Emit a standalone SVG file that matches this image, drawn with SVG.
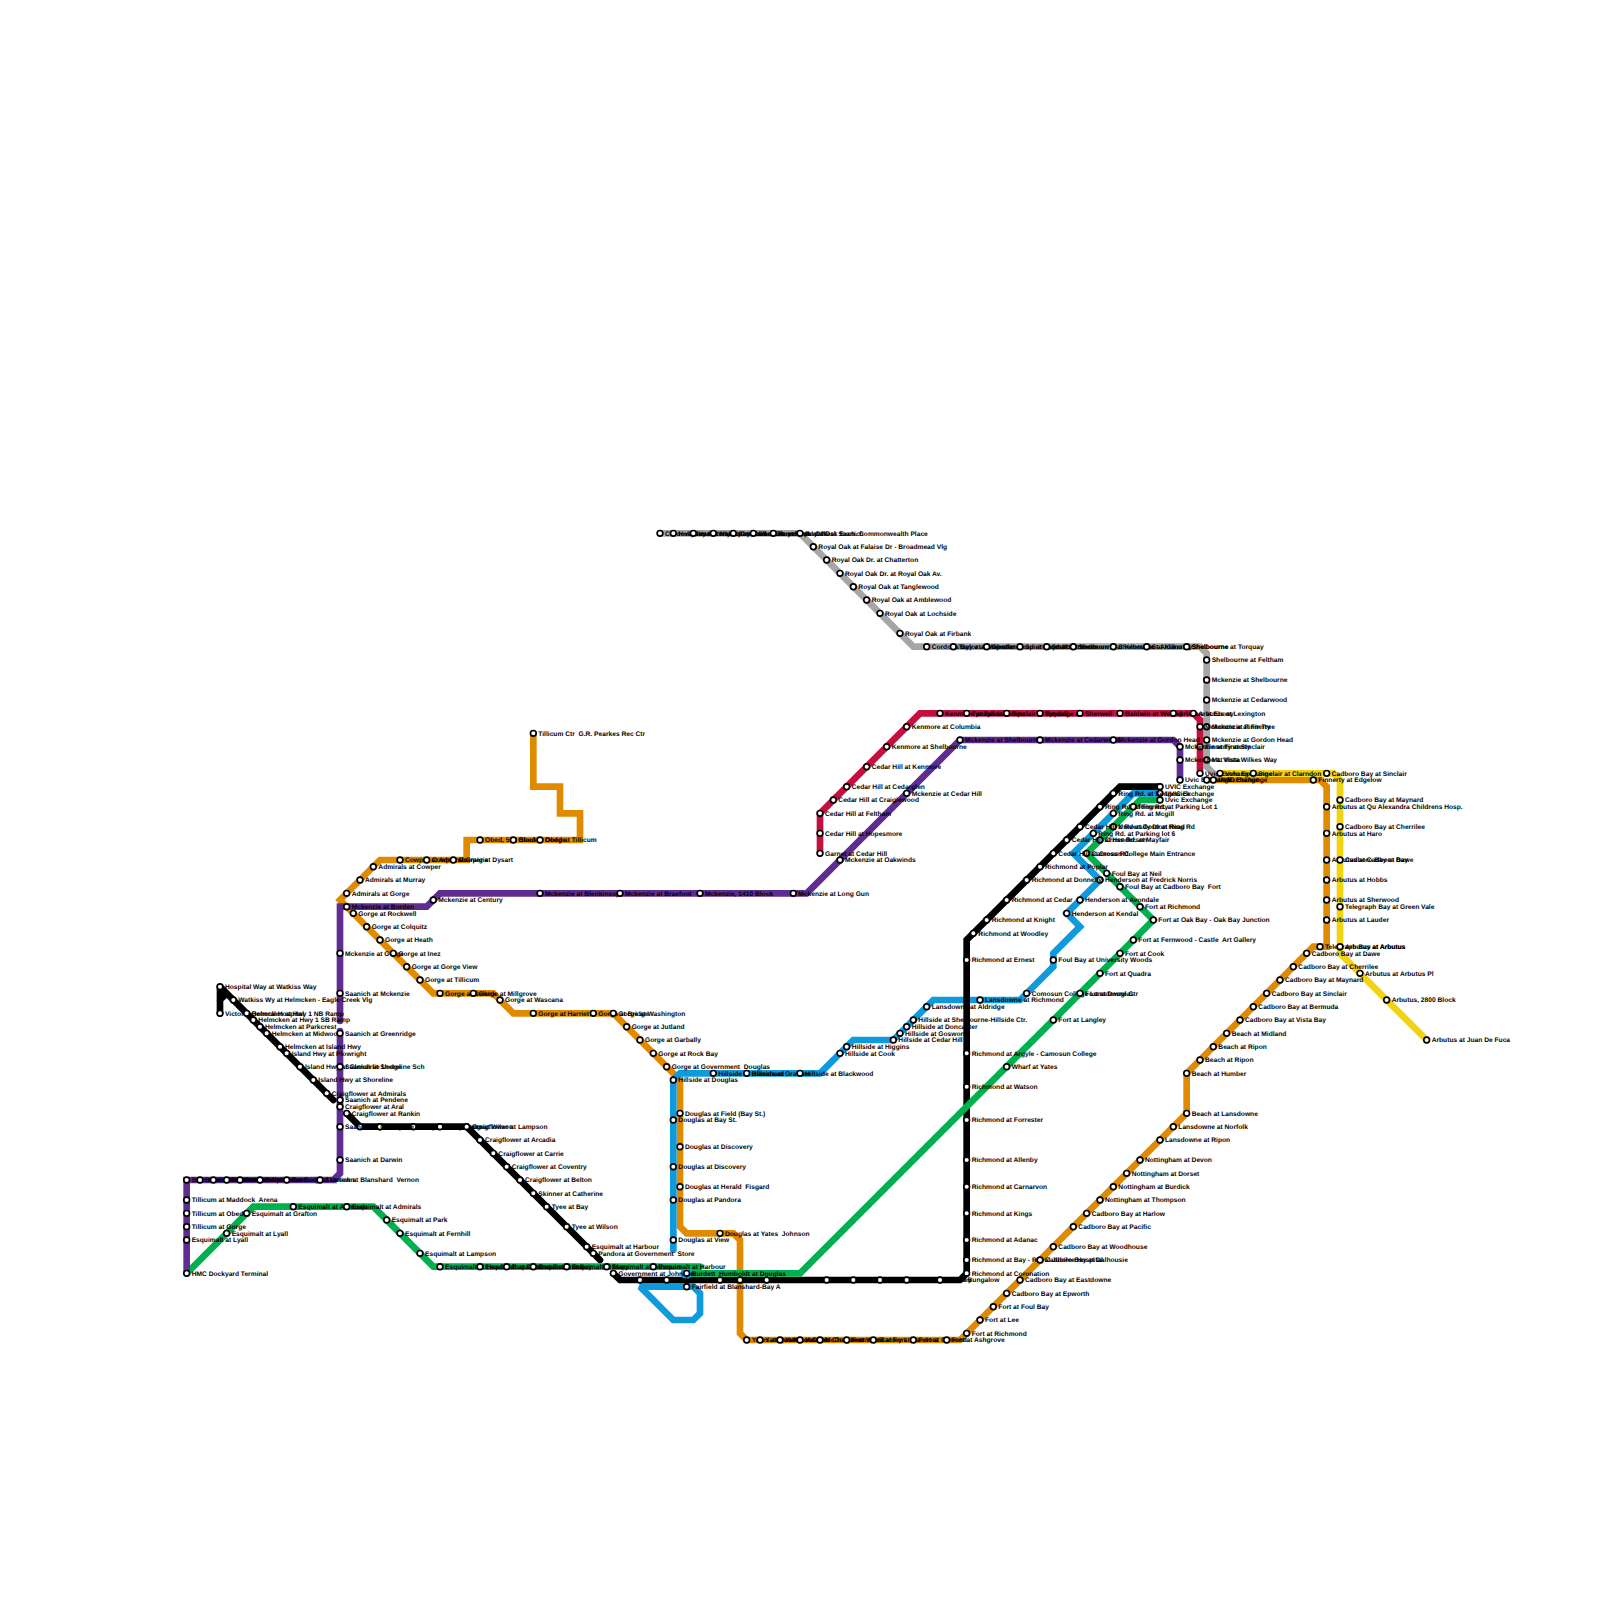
<svg xmlns="http://www.w3.org/2000/svg" width="1600" height="1600" viewBox="0 0 1600 1600">
<style>
.l{fill:none;stroke-width:6.67;stroke-linecap:round;stroke-linejoin:miter;stroke-miterlimit:2}
.or{stroke:#e08a00}.bl{stroke:#0e9adc}.gy{stroke:#a6a6a6}.cr{stroke:#c4103f}.ye{stroke:#f2d312}.bk{stroke:#000}.gr{stroke:#00b04f}.pu{stroke:#5f2c91}
#nodes{opacity:.999}
#nodes circle{fill:#fff;stroke:#000;stroke-width:1.67}
#nodes text{font-family:"Liberation Sans",Arial,sans-serif;font-weight:bold;font-size:6.67px;fill:#000;white-space:pre;text-rendering:geometricPrecision}
</style>
<rect width="1600" height="1600" fill="#fff"/>
<g id="connectors">
<path class="l or" d="M533.33,733.33V786.67H560V813.33H580V840H466.67V860H380L340,900L433.33,993.33H493.33L513.33,1013.33H613.33L673.33,1073.33L680,1080V1226.67L686.67,1233.33H733.33L740,1240V1333.33L746.67,1340H960L1186.67,1113.33V1073.33L1313.33,946.67H1326.67V786.67L1320,780H1206.67"/>
<path class="l bl" d="M1160,793.33H1133.33L1073.33,853.33L1100,880L1066.67,913.33L1080,926.67L1053.33,953.33V966.67L1020,1000H933.33L893.33,1040H853.33L820,1073.33H680L673.33,1080V1250"/>
<path class="l bl" d="M686.67,1273.33V1286.67"/>
<path class="l bl" d="M640,1286.67H693.33L700,1293.33V1313.33L693.33,1320H673.33Z"/>
<path class="l gy" d="M660,533.33H800L913.33,646.67H1200L1206.67,653.33V766.67L1216,776"/>
<path class="l cr" d="M820,853.33V813.33L920,713.33H1193.33L1200,720V773.33"/>
<path class="l ye" d="M1220,773.33H1333.33L1340,780V953.33L1426.67,1040"/>
<path class="l bk" d="M220,1013.33V986.67L333.33,1100M220,1000L226.67,993.33"/>
<path class="l bk" d="M346.67,1113.33L360,1126.67H466.67L600,1260"/>
<path class="l bk" d="M613.33,1273.33L620,1280H960L966.67,1273.33V940L1120,786.67H1160"/>
<path class="l gr" d="M186.67,1273.33L253.33,1206.67H373.33L433.33,1266.67H700"/>
<path class="l gr" d="M690,1273.33H800L1153.33,920L1086.67,853.33L1140,800H1160"/>
<path class="l pu" d="M186.67,1273.33V1180H333.33L340,1173.33V1031"/>
<path class="l pu" d="M340,1021V906.67H426.67L440,893.33H806.67L960,740H1173.33L1180,746.67V780"/>
<circle cx="686.67" cy="1273.33" r="6" fill="#0e9adc"/>
</g>
<g id="nodes">
<g id="n1"><circle cx="660" cy="533.33" r="2.87"/><text x="665" y="535.6">Cordova Bay Rd</text></g>
<g id="n2"><circle cx="673.33" cy="533.33" r="2.87"/><text x="678.33" y="535.6">Hollydene at Haliburton</text></g>
<g id="n3"><circle cx="693.33" cy="533.33" r="2.87"/><text x="698.33" y="535.6">Hamsterly at Cordova</text></g>
<g id="n4"><circle cx="713.33" cy="533.33" r="2.87"/><text x="718.33" y="535.6">Wesley at Claremont</text></g>
<g id="n5"><circle cx="733.33" cy="533.33" r="2.87"/><text x="738.33" y="535.6">Sayward at Claremont</text></g>
<g id="n6"><circle cx="753.33" cy="533.33" r="2.87"/><text x="758.33" y="535.6">Elk Lake at Royal Oak</text></g>
<g id="n7"><circle cx="773.33" cy="533.33" r="2.87"/><text x="778.33" y="535.6">Royal Oak at West Saanich</text></g>
<g id="n8"><circle cx="800" cy="533.33" r="2.87"/><text x="805" y="535.6">Royal Oak Exch. Commonwealth Place</text></g>
<g id="n9"><circle cx="813.33" cy="546.67" r="2.87"/><text x="818.33" y="548.9">Royal Oak at Falaise Dr - Broadmead Vlg</text></g>
<g id="n10"><circle cx="826.67" cy="560" r="2.87"/><text x="831.67" y="562.3">Royal Oak Dr. at Chatterton</text></g>
<g id="n11"><circle cx="840" cy="573.33" r="2.87"/><text x="845" y="575.6">Royal Oak Dr. at Royal Oak Av.</text></g>
<g id="n12"><circle cx="853.33" cy="586.67" r="2.87"/><text x="858.33" y="588.9">Royal Oak at Tanglewood</text></g>
<g id="n13"><circle cx="866.67" cy="600" r="2.87"/><text x="871.67" y="602.3">Royal Oak at Amblewood</text></g>
<g id="n14"><circle cx="880" cy="613.33" r="2.87"/><text x="885" y="615.6">Royal Oak at Lochside</text></g>
<g id="n15"><circle cx="900" cy="633.33" r="2.87"/><text x="905" y="635.6">Royal Oak at Firbank</text></g>
<g id="n16"><circle cx="926.67" cy="646.67" r="2.87"/><text x="931.67" y="648.9">Cordova Bay at Cumberland</text></g>
<g id="n17"><circle cx="953.33" cy="646.67" r="2.87"/><text x="958.33" y="648.9">Taylor at Majestic</text></g>
<g id="n18"><circle cx="986.67" cy="646.67" r="2.87"/><text x="991.67" y="648.9">Gordon Head at Majestic</text></g>
<g id="n19"><circle cx="1020" cy="646.67" r="2.87"/><text x="1025" y="648.9">Spiritwood at Kenmore</text></g>
<g id="n20"><circle cx="1046.67" cy="646.67" r="2.87"/><text x="1051.67" y="648.9">Smith at Kenmore</text></g>
<g id="n21"><circle cx="1073.33" cy="646.67" r="2.87"/><text x="1078.33" y="648.9">Shelbourne at Kenmore</text></g>
<g id="n22"><circle cx="1113.33" cy="646.67" r="2.87"/><text x="1118.33" y="648.9">Shelbourne at Kilkenny</text></g>
<g id="n23"><circle cx="1146.67" cy="646.67" r="2.87"/><text x="1151.67" y="648.9">St Aidans at Shelbourne</text></g>
<g id="n24"><circle cx="1186.67" cy="646.67" r="2.87"/><text x="1191.67" y="648.9">Shelbourne at Torquay</text></g>
<g id="n25"><circle cx="1206.67" cy="660" r="2.87"/><text x="1211.67" y="662.3">Shelbourne at Feltham</text></g>
<g id="n26"><circle cx="1206.67" cy="680" r="2.87"/><text x="1211.67" y="682.3">Mckenzie at Shelbourne</text></g>
<g id="n27"><circle cx="1206.67" cy="700" r="2.87"/><text x="1211.67" y="702.3">Mckenzie at Cedarwood</text></g>
<g id="n28"><circle cx="1206.67" cy="726.67" r="2.87"/><text x="1211.67" y="728.9">Mckenzie at Fir Tree</text></g>
<g id="n29"><circle cx="1206.67" cy="740" r="2.87"/><text x="1211.67" y="742.3">Mckenzie at Gordon Head</text></g>
<g id="n30"><circle cx="1206.67" cy="760" r="2.87"/><text x="1211.67" y="762.3">Mt. Vista Wilkes Way</text></g>
<g id="n31"><circle cx="940" cy="713.33" r="2.87"/><text x="945" y="715.6">Kenmore at Tyndall</text></g>
<g id="n32"><circle cx="966.67" cy="713.33" r="2.87"/><text x="971.67" y="715.6">Tyndall at Jolkpa</text></g>
<g id="n33"><circle cx="1006.67" cy="713.33" r="2.87"/><text x="1011.67" y="715.6">Sinclair at Tyndall</text></g>
<g id="n34"><circle cx="1040" cy="713.33" r="2.87"/><text x="1045" y="715.6">Bayridge at</text></g>
<g id="n35"><circle cx="1080" cy="713.33" r="2.87"/><text x="1085" y="715.6">Sherwell</text></g>
<g id="n36"><circle cx="1120" cy="713.33" r="2.87"/><text x="1125" y="715.6">Baldwin at Wesley</text></g>
<g id="n37"><circle cx="1173.33" cy="713.33" r="2.87"/><text x="1178.33" y="715.6">Arbutus at Ebony</text></g>
<g id="n38"><circle cx="1193.33" cy="713.33" r="2.87"/><text x="1198.33" y="715.6">Arbutus at Lexington</text></g>
<g id="n39"><circle cx="1200" cy="726.67" r="2.87"/><text x="1205" y="728.9">Mckenzie at Finnerty</text></g>
<g id="n40"><circle cx="1200" cy="746.67" r="2.87"/><text x="1205" y="748.9">Finnerty at Sinclair</text></g>
<g id="n41"><circle cx="1200" cy="773.33" r="2.87"/><text x="1205" y="775.6">Uvic Exchange</text></g>
<g id="n42"><circle cx="820" cy="853.33" r="2.87"/><text x="825" y="855.6">Garnet at Cedar Hill</text></g>
<g id="n43"><circle cx="820" cy="833.33" r="2.87"/><text x="825" y="835.6">Cedar Hill at Hopesmore</text></g>
<g id="n44"><circle cx="820" cy="813.33" r="2.87"/><text x="825" y="815.6">Cedar Hill at Feltham</text></g>
<g id="n45"><circle cx="833.33" cy="800" r="2.87"/><text x="838.33" y="802.3">Cedar Hill at Craigiewood</text></g>
<g id="n46"><circle cx="846.67" cy="786.67" r="2.87"/><text x="851.67" y="788.9">Cedar Hill at Cedarglen</text></g>
<g id="n47"><circle cx="866.67" cy="766.67" r="2.87"/><text x="871.67" y="768.9">Cedar Hill at Kenmore</text></g>
<g id="n48"><circle cx="886.67" cy="746.67" r="2.87"/><text x="891.67" y="748.9">Kenmore at Shelbourne</text></g>
<g id="n49"><circle cx="906.67" cy="726.67" r="2.87"/><text x="911.67" y="728.9">Kenmore at Columbia</text></g>
<g id="n50"><circle cx="960" cy="740" r="2.87"/><text x="965" y="742.3">Mckenzie at Shelbourne</text></g>
<g id="n51"><circle cx="1040" cy="740" r="2.87"/><text x="1045" y="742.3">Mckenzie at Cedarwood</text></g>
<g id="n52"><circle cx="1113.33" cy="740" r="2.87"/><text x="1118.33" y="742.3">Mckenzie at Gordon Head</text></g>
<g id="n53"><circle cx="1180" cy="746.67" r="2.87"/><text x="1185" y="748.9">Mckenzie at Finnerty</text></g>
<g id="n54"><circle cx="1180" cy="760" r="2.87"/><text x="1185" y="762.3">Mckenzie at Vista</text></g>
<g id="n55"><circle cx="1180" cy="780" r="2.87"/><text x="1185" y="782.3">Uvic Exchange</text></g>
<g id="n56"><circle cx="1206.67" cy="780" r="2.87"/><text x="1211.67" y="782.3">Uvic Exchange</text></g>
<g id="n57"><circle cx="1213.33" cy="780" r="2.87"/><text x="1218.33" y="782.3">UVIC Exchange</text></g>
<g id="n58"><circle cx="1220" cy="773.33" r="2.87"/><text x="1225" y="775.6">Uvic Exchange</text></g>
<g id="n59"><circle cx="1253.33" cy="773.33" r="2.87"/><text x="1258.33" y="775.6">Sinclair at Clarndon</text></g>
<g id="n60"><circle cx="1326.67" cy="773.33" r="2.87"/><text x="1331.67" y="775.6">Cadboro Bay at Sinclair</text></g>
<g id="n61"><circle cx="1313.33" cy="780" r="2.87"/><text x="1318.33" y="782.3">Finnerty at Edgelow</text></g>
<g id="n62"><circle cx="1340" cy="800" r="2.87"/><text x="1345" y="802.3">Cadboro Bay at Maynard</text></g>
<g id="n63"><circle cx="1340" cy="826.67" r="2.87"/><text x="1345" y="828.9">Cadboro Bay at Cherrilee</text></g>
<g id="n64"><circle cx="1326.67" cy="806.67" r="2.87"/><text x="1331.67" y="808.9">Arbutus at Qu Alexandra Childrens Hosp.</text></g>
<g id="n65"><circle cx="1326.67" cy="833.33" r="2.87"/><text x="1331.67" y="835.6">Arbutus at Haro</text></g>
<g id="n66"><circle cx="1326.67" cy="860" r="2.87"/><text x="1331.67" y="862.3">Arbutus at Cadboro Bay</text></g>
<g id="n67"><circle cx="1340" cy="860" r="2.87"/><text x="1345" y="862.3">Cadboro Bay at Dawe</text></g>
<g id="n68"><circle cx="1326.67" cy="880" r="2.87"/><text x="1331.67" y="882.3">Arbutus at Hobbs</text></g>
<g id="n69"><circle cx="1326.67" cy="900" r="2.87"/><text x="1331.67" y="902.3">Arbutus at Sherwood</text></g>
<g id="n70"><circle cx="1340" cy="906.67" r="2.87"/><text x="1345" y="908.9">Telegraph Bay at Green Vale</text></g>
<g id="n71"><circle cx="1326.67" cy="920" r="2.87"/><text x="1331.67" y="922.3">Arbutus at Lauder</text></g>
<g id="n72"><circle cx="1320" cy="946.67" r="2.87"/><text x="1325" y="948.9">Telegraph Bay at Arbutus</text></g>
<g id="n73"><circle cx="1340" cy="946.67" r="2.87"/><text x="1345" y="948.9">Arbutus at Arbutus</text></g>
<g id="n74"><circle cx="1360" cy="973.33" r="2.87"/><text x="1365" y="975.6">Arbutus at Arbutus Pl</text></g>
<g id="n75"><circle cx="1386.67" cy="1000" r="2.87"/><text x="1391.67" y="1002.3">Arbutus, 2800 Block</text></g>
<g id="n76"><circle cx="1426.67" cy="1040" r="2.87"/><text x="1431.67" y="1042.3">Arbutus at Juan De Fuca</text></g>
<g id="n77"><circle cx="1306.67" cy="953.33" r="2.87"/><text x="1311.67" y="955.6">Cadboro Bay at Dawe</text></g>
<g id="n78"><circle cx="1293.33" cy="966.67" r="2.87"/><text x="1298.33" y="968.9">Cadboro Bay at Cherrilee</text></g>
<g id="n79"><circle cx="1280" cy="980" r="2.87"/><text x="1285" y="982.3">Cadboro Bay at Maynard</text></g>
<g id="n80"><circle cx="1266.67" cy="993.33" r="2.87"/><text x="1271.67" y="995.6">Cadboro Bay at Sinclair</text></g>
<g id="n81"><circle cx="1253.33" cy="1006.67" r="2.87"/><text x="1258.33" y="1008.9">Cadboro Bay at Bermuda</text></g>
<g id="n82"><circle cx="1240" cy="1020" r="2.87"/><text x="1245" y="1022.3">Cadboro Bay at Vista Bay</text></g>
<g id="n83"><circle cx="1226.67" cy="1033.33" r="2.87"/><text x="1231.67" y="1035.6">Beach at Midland</text></g>
<g id="n84"><circle cx="1213.33" cy="1046.67" r="2.87"/><text x="1218.33" y="1048.9">Beach at Ripon</text></g>
<g id="n85"><circle cx="1200" cy="1060" r="2.87"/><text x="1205" y="1062.3">Beach at Ripon</text></g>
<g id="n86"><circle cx="1186.67" cy="1073.33" r="2.87"/><text x="1191.67" y="1075.6">Beach at Humber</text></g>
<g id="n87"><circle cx="1186.67" cy="1113.33" r="2.87"/><text x="1191.67" y="1115.6">Beach at Lansdowne</text></g>
<g id="n88"><circle cx="1173.33" cy="1126.67" r="2.87"/><text x="1178.33" y="1128.9">Lansdowne at Norfolk</text></g>
<g id="n89"><circle cx="1160" cy="1140" r="2.87"/><text x="1165" y="1142.3">Lansdowne at Ripon</text></g>
<g id="n90"><circle cx="1140" cy="1160" r="2.87"/><text x="1145" y="1162.3">Nottingham at Devon</text></g>
<g id="n91"><circle cx="1126.67" cy="1173.33" r="2.87"/><text x="1131.67" y="1175.6">Nottingham at Dorset</text></g>
<g id="n92"><circle cx="1113.33" cy="1186.67" r="2.87"/><text x="1118.33" y="1188.9">Nottingham at Burdick</text></g>
<g id="n93"><circle cx="1100" cy="1200" r="2.87"/><text x="1105" y="1202.3">Nottingham at Thompson</text></g>
<g id="n94"><circle cx="1086.67" cy="1213.33" r="2.87"/><text x="1091.67" y="1215.6">Cadboro Bay at Harlow</text></g>
<g id="n95"><circle cx="1073.33" cy="1226.67" r="2.87"/><text x="1078.33" y="1228.9">Cadboro Bay at Pacific</text></g>
<g id="n96"><circle cx="1053.33" cy="1246.67" r="2.87"/><text x="1058.33" y="1248.9">Cadboro Bay at Woodhouse</text></g>
<g id="n97"><circle cx="966.67" cy="1260" r="2.87"/><text x="971.67" y="1262.3">Richmond at Bay - Royal Jubilee Hospital</text></g>
<g id="n98"><circle cx="1040" cy="1260" r="2.87"/><text x="1045" y="1262.3">Cadboro Bay at Dalhousie</text></g>
<g id="n99"><circle cx="1020" cy="1280" r="2.87"/><text x="1025" y="1282.3">Cadboro Bay at Eastdowne</text></g>
<g id="n100"><circle cx="1006.67" cy="1293.33" r="2.87"/><text x="1011.67" y="1295.6">Cadboro Bay at Epworth</text></g>
<g id="n101"><circle cx="993.33" cy="1306.67" r="2.87"/><text x="998.33" y="1308.9">Fort at Foul Bay</text></g>
<g id="n102"><circle cx="980" cy="1320" r="2.87"/><text x="985" y="1322.3">Fort at Lee</text></g>
<g id="n103"><circle cx="966.67" cy="1333.33" r="2.87"/><text x="971.67" y="1335.6">Fort at Richmond</text></g>
<g id="n104"><circle cx="746.67" cy="1340" r="2.87"/><text x="751.67" y="1342.3">Yates at Quadra</text></g>
<g id="n105"><circle cx="760" cy="1340" r="2.87"/><text x="765" y="1342.3">Yates at Vancouver</text></g>
<g id="n106"><circle cx="780" cy="1340" r="2.87"/><text x="785" y="1342.3">Yates at Cook</text></g>
<g id="n107"><circle cx="800" cy="1340" r="2.87"/><text x="805" y="1342.3">Yates at Chambers</text></g>
<g id="n108"><circle cx="820" cy="1340" r="2.87"/><text x="825" y="1342.3">McGregor at Yates</text></g>
<g id="n109"><circle cx="846.67" cy="1340" r="2.87"/><text x="851.67" y="1342.3">Fernwood at Fort</text></g>
<g id="n110"><circle cx="873.33" cy="1340" r="2.87"/><text x="878.33" y="1342.3">Stanley at Pandora</text></g>
<g id="n111"><circle cx="913.33" cy="1340" r="2.87"/><text x="918.33" y="1342.3">Fort at Ormond</text></g>
<g id="n112"><circle cx="946.67" cy="1340" r="2.87"/><text x="951.67" y="1342.3">Fort at Ashgrove</text></g>
<g id="n113"><circle cx="533.33" cy="733.33" r="2.87"/><text x="538.33" y="735.6">Tillicum Ctr  G.R. Pearkes Rec Ctr</text></g>
<g id="n114"><circle cx="480" cy="840" r="2.87"/><text x="485" y="842.3">Obed, 500 Block</text></g>
<g id="n115"><circle cx="513.33" cy="840" r="2.87"/><text x="518.33" y="842.3">Obed at Dodge</text></g>
<g id="n116"><circle cx="540" cy="840" r="2.87"/><text x="545" y="842.3">Obed at Tillicum</text></g>
<g id="n117"><circle cx="400" cy="860" r="2.87"/><text x="405" y="862.3">Cowper at Admirals</text></g>
<g id="n118"><circle cx="426.67" cy="860" r="2.87"/><text x="431.67" y="862.3">Cowper at Craigie</text></g>
<g id="n119"><circle cx="453.33" cy="860" r="2.87"/><text x="458.33" y="862.3">Cowper at Dysart</text></g>
<g id="n120"><circle cx="373.33" cy="866.67" r="2.87"/><text x="378.33" y="868.9">Admirals at Cowper</text></g>
<g id="n121"><circle cx="360" cy="880" r="2.87"/><text x="365" y="882.3">Admirals at Murray</text></g>
<g id="n122"><circle cx="346.67" cy="893.33" r="2.87"/><text x="351.67" y="895.6">Admirals at Gorge</text></g>
<g id="n123"><circle cx="346.67" cy="906.67" r="2.87"/><text x="351.67" y="908.9">Mckenzie at Borden</text></g>
<g id="n124"><circle cx="353.33" cy="913.33" r="2.87"/><text x="358.33" y="915.6">Gorge at Rockwell</text></g>
<g id="n125"><circle cx="366.67" cy="926.67" r="2.87"/><text x="371.67" y="928.9">Gorge at Colquitz</text></g>
<g id="n126"><circle cx="380" cy="940" r="2.87"/><text x="385" y="942.3">Gorge at Heath</text></g>
<g id="n127"><circle cx="340" cy="953.33" r="2.87"/><text x="345" y="955.6">Mckenzie at Gorge</text></g>
<g id="n128"><circle cx="393.33" cy="953.33" r="2.87"/><text x="398.33" y="955.6">Gorge at Inez</text></g>
<g id="n129"><circle cx="406.67" cy="966.67" r="2.87"/><text x="411.67" y="968.9">Gorge at Gorge View</text></g>
<g id="n130"><circle cx="420" cy="980" r="2.87"/><text x="425" y="982.3">Gorge at Tillicum</text></g>
<g id="n131"><circle cx="440" cy="993.33" r="2.87"/><text x="445" y="995.6">Gorge at Selkirk</text></g>
<g id="n132"><circle cx="473.33" cy="993.33" r="2.87"/><text x="478.33" y="995.6">Gorge at Millgrove</text></g>
<g id="n133"><circle cx="500" cy="1000" r="2.87"/><text x="505" y="1002.3">Gorge at Wascana</text></g>
<g id="n134"><circle cx="533.33" cy="1013.33" r="2.87"/><text x="538.33" y="1015.6">Gorge at Harriet</text></g>
<g id="n135"><circle cx="593.33" cy="1013.33" r="2.87"/><text x="598.33" y="1015.6">Gorge at Bridge</text></g>
<g id="n136"><circle cx="613.33" cy="1013.33" r="2.87"/><text x="618.33" y="1015.6">Gorge at Washington</text></g>
<g id="n137"><circle cx="626.67" cy="1026.67" r="2.87"/><text x="631.67" y="1028.9">Gorge at Jutland</text></g>
<g id="n138"><circle cx="640" cy="1040" r="2.87"/><text x="645" y="1042.3">Gorge at Garbally</text></g>
<g id="n139"><circle cx="653.33" cy="1053.33" r="2.87"/><text x="658.33" y="1055.6">Gorge at Rock Bay</text></g>
<g id="n140"><circle cx="666.67" cy="1066.67" r="2.87"/><text x="671.67" y="1068.9">Gorge at Government  Douglas</text></g>
<g id="n141"><circle cx="680" cy="1113.33" r="2.87"/><text x="685" y="1115.6">Douglas at Field (Bay St.)</text></g>
<g id="n142"><circle cx="680" cy="1146.67" r="2.87"/><text x="685" y="1148.9">Douglas at Discovery</text></g>
<g id="n143"><circle cx="680" cy="1186.67" r="2.87"/><text x="685" y="1188.9">Douglas at Herald  Fisgard</text></g>
<g id="n144"><circle cx="720" cy="1233.33" r="2.87"/><text x="725" y="1235.6">Douglas at Yates  Johnson</text></g>
<g id="n145"><circle cx="673.33" cy="1080" r="2.87"/><text x="678.33" y="1082.3">Hillside at Douglas</text></g>
<g id="n146"><circle cx="673.33" cy="1120" r="2.87"/><text x="678.33" y="1122.3">Douglas at Bay St.</text></g>
<g id="n147"><circle cx="673.33" cy="1166.67" r="2.87"/><text x="678.33" y="1168.9">Douglas at Discovery</text></g>
<g id="n148"><circle cx="673.33" cy="1200" r="2.87"/><text x="678.33" y="1202.3">Douglas at Pandora</text></g>
<g id="n149"><circle cx="673.33" cy="1240" r="2.87"/><text x="678.33" y="1242.3">Douglas at View</text></g>
<g id="n150"><circle cx="713.33" cy="1073.33" r="2.87"/><text x="718.33" y="1075.6">Hillside at Blanshard</text></g>
<g id="n151"><circle cx="746.67" cy="1073.33" r="2.87"/><text x="751.67" y="1075.6">Hillside at Graham</text></g>
<g id="n152"><circle cx="800" cy="1073.33" r="2.87"/><text x="805" y="1075.6">Hillside at Blackwood</text></g>
<g id="n153"><circle cx="840" cy="1053.33" r="2.87"/><text x="845" y="1055.6">Hillside at Cook</text></g>
<g id="n154"><circle cx="846.67" cy="1046.67" r="2.87"/><text x="851.67" y="1048.9">Hillside at Higgins</text></g>
<g id="n155"><circle cx="893.33" cy="1040" r="2.87"/><text x="898.33" y="1042.3">Hillside at Cedar Hill</text></g>
<g id="n156"><circle cx="900" cy="1033.33" r="2.87"/><text x="905" y="1035.6">Hillside at Gosworth</text></g>
<g id="n157"><circle cx="906.67" cy="1026.67" r="2.87"/><text x="911.67" y="1028.9">Hillside at Doncaster</text></g>
<g id="n158"><circle cx="913.33" cy="1020" r="2.87"/><text x="918.33" y="1022.3">Hillside at Shelbourne-Hillside Ctr.</text></g>
<g id="n159"><circle cx="926.67" cy="1006.67" r="2.87"/><text x="931.67" y="1008.9">Lansdowne at Aldridge</text></g>
<g id="n160"><circle cx="980" cy="1000" r="2.87"/><text x="985" y="1002.3">Lansdowne at Richmond</text></g>
<g id="n161"><circle cx="1026.67" cy="993.33" r="2.87"/><text x="1031.67" y="995.6">Comosun College Lansdowne Ctr</text></g>
<g id="n162"><circle cx="1053.33" cy="960" r="2.87"/><text x="1058.33" y="962.3">Foul Bay at University Woods</text></g>
<g id="n163"><circle cx="1066.67" cy="913.33" r="2.87"/><text x="1071.67" y="915.6">Henderson at Kendal</text></g>
<g id="n164"><circle cx="1080" cy="900" r="2.87"/><text x="1085" y="902.3">Henderson at Avondale</text></g>
<g id="n165"><circle cx="1100" cy="880" r="2.87"/><text x="1105" y="882.3">Henderson at Fredrick Norris</text></g>
<g id="n166"><circle cx="1093.33" cy="833.33" r="2.87"/><text x="1098.33" y="835.6">Ring Rd. at Parking lot 6</text></g>
<g id="n167"><circle cx="1113.33" cy="813.33" r="2.87"/><text x="1118.33" y="815.6">Ring Rd. at Mcgill</text></g>
<g id="n168"><circle cx="1160" cy="786.67" r="2.87"/><text x="1165" y="788.9">UVIC Exchange</text></g>
<g id="n169"><circle cx="1160" cy="793.33" r="2.87"/><text x="1165" y="795.6">UVIC Exchange</text></g>
<g id="n170"><circle cx="1160" cy="800" r="2.87"/><text x="1165" y="802.3">Uvic Exchange</text></g>
<g id="n171"><circle cx="1133.33" cy="806.67" r="2.87"/><text x="1138.33" y="808.9">Ring Rd. at Parking Lot 1</text></g>
<g id="n172"><circle cx="1113.33" cy="826.67" r="2.87"/><text x="1118.33" y="828.9">University Dr at Ring Rd</text></g>
<g id="n173"><circle cx="1100" cy="840" r="2.87"/><text x="1105" y="842.3">Cross Rd. at Mayfair</text></g>
<g id="n174"><circle cx="1086.67" cy="853.33" r="2.87"/><text x="1091.67" y="855.6">Camosun College Main Entrance</text></g>
<g id="n175"><circle cx="1106.67" cy="873.33" r="2.87"/><text x="1111.67" y="875.6">Foul Bay at Neil</text></g>
<g id="n176"><circle cx="1120" cy="886.67" r="2.87"/><text x="1125" y="888.9">Foul Bay at Cadboro Bay  Fort</text></g>
<g id="n177"><circle cx="1140" cy="906.67" r="2.87"/><text x="1145" y="908.9">Fort at Richmond</text></g>
<g id="n178"><circle cx="1153.33" cy="920" r="2.87"/><text x="1158.33" y="922.3">Fort at Oak Bay - Oak Bay Junction</text></g>
<g id="n179"><circle cx="1133.33" cy="940" r="2.87"/><text x="1138.33" y="942.3">Fort at Fernwood - Castle  Art Gallery</text></g>
<g id="n180"><circle cx="1120" cy="953.33" r="2.87"/><text x="1125" y="955.6">Fort at Cook</text></g>
<g id="n181"><circle cx="1100" cy="973.33" r="2.87"/><text x="1105" y="975.6">Fort at Quadra</text></g>
<g id="n182"><circle cx="1080" cy="993.33" r="2.87"/><text x="1085" y="995.6">Fort at Douglas</text></g>
<g id="n183"><circle cx="1053.33" cy="1020" r="2.87"/><text x="1058.33" y="1022.3">Fort at Langley</text></g>
<g id="n184"><circle cx="1006.67" cy="1066.67" r="2.87"/><text x="1011.67" y="1068.9">Wharf at Yates</text></g>
<g id="n185"><circle cx="973.33" cy="933.33" r="2.87"/><text x="978.33" y="935.6">Richmond at Woodley</text></g>
<g id="n186"><circle cx="986.67" cy="920" r="2.87"/><text x="991.67" y="922.3">Richmond at Knight</text></g>
<g id="n187"><circle cx="1006.67" cy="900" r="2.87"/><text x="1011.67" y="902.3">Richmond at Cedar</text></g>
<g id="n188"><circle cx="1026.67" cy="880" r="2.87"/><text x="1031.67" y="882.3">Richmond at Donnelly</text></g>
<g id="n189"><circle cx="1040" cy="866.67" r="2.87"/><text x="1045" y="868.9">Richmond at Poplar</text></g>
<g id="n190"><circle cx="1053.33" cy="853.33" r="2.87"/><text x="1058.33" y="855.6">Cedar Hill at Cross Rd.</text></g>
<g id="n191"><circle cx="1066.67" cy="840" r="2.87"/><text x="1071.67" y="842.3">Cedar Hill at Henderson</text></g>
<g id="n192"><circle cx="1080" cy="826.67" r="2.87"/><text x="1085" y="828.9">Cedar Hill X Rd at Gordon Head</text></g>
<g id="n193"><circle cx="1100" cy="806.67" r="2.87"/><text x="1105" y="808.9">Ring Rd. at Finnerty</text></g>
<g id="n194"><circle cx="1113.33" cy="793.33" r="2.87"/><text x="1118.33" y="795.6">Ring Rd. at Sedgewick</text></g>
<g id="n195"><circle cx="966.67" cy="960" r="2.87"/><text x="971.67" y="962.3">Richmond at Ernest</text></g>
<g id="n196"><circle cx="966.67" cy="1053.33" r="2.87"/><text x="971.67" y="1055.6">Richmond at Argyle - Camosun College</text></g>
<g id="n197"><circle cx="966.67" cy="1086.67" r="2.87"/><text x="971.67" y="1088.9">Richmond at Watson</text></g>
<g id="n198"><circle cx="966.67" cy="1120" r="2.87"/><text x="971.67" y="1122.3">Richmond at Forrester</text></g>
<g id="n199"><circle cx="966.67" cy="1160" r="2.87"/><text x="971.67" y="1162.3">Richmond at Allenby</text></g>
<g id="n200"><circle cx="966.67" cy="1186.67" r="2.87"/><text x="971.67" y="1188.9">Richmond at Carnarvon</text></g>
<g id="n201"><circle cx="966.67" cy="1213.33" r="2.87"/><text x="971.67" y="1215.6">Richmond at Kings</text></g>
<g id="n202"><circle cx="966.67" cy="1240" r="2.87"/><text x="971.67" y="1242.3">Richmond at Adanac</text></g>
<g id="n203"><circle cx="966.67" cy="1273.33" r="2.87"/><text x="971.67" y="1275.6">Richmond at Coronation</text></g>
<g id="n204"><circle cx="640" cy="1280" r="2.87"/><text x="645" y="1282.3">Yates at Wharf</text></g>
<g id="n205"><circle cx="666.67" cy="1280" r="2.87"/><text x="671.67" y="1282.3">Pandora at Broad</text></g>
<g id="n206"><circle cx="720" cy="1280" r="2.87"/><text x="725" y="1282.3">Pandora at Quadra</text></g>
<g id="n207"><circle cx="740" cy="1280" r="2.87"/><text x="745" y="1282.3">Pandora at Blanshard</text></g>
<g id="n208"><circle cx="766.67" cy="1280" r="2.87"/><text x="771.67" y="1282.3">Pandora at Vancouver</text></g>
<g id="n209"><circle cx="826.67" cy="1280" r="2.87"/><text x="831.67" y="1282.3">Pandora at Cook</text></g>
<g id="n210"><circle cx="853.33" cy="1280" r="2.87"/><text x="858.33" y="1282.3">Pandora at Chambers</text></g>
<g id="n211"><circle cx="880" cy="1280" r="2.87"/><text x="885" y="1282.3">Pandora at Fernwood</text></g>
<g id="n212"><circle cx="906.67" cy="1280" r="2.87"/><text x="911.67" y="1282.3">Pandora at Stanley</text></g>
<g id="n213"><circle cx="940" cy="1280" r="2.87"/><text x="945" y="1282.3">Fort at Bungalow</text></g>
<g id="n214"><circle cx="613.33" cy="1273.33" r="2.87"/><text x="618.33" y="1275.6">Government at Johnson</text></g>
<g id="n215"><circle cx="593.33" cy="1253.33" r="2.87"/><text x="598.33" y="1255.6">Pandora at Government  Store</text></g>
<g id="n216"><circle cx="586.67" cy="1246.67" r="2.87"/><text x="591.67" y="1248.9">Esquimalt at Harbour</text></g>
<g id="n217"><circle cx="566.67" cy="1226.67" r="2.87"/><text x="571.67" y="1228.9">Tyee at Wilson</text></g>
<g id="n218"><circle cx="546.67" cy="1206.67" r="2.87"/><text x="551.67" y="1208.9">Tyee at Bay</text></g>
<g id="n219"><circle cx="533.33" cy="1193.33" r="2.87"/><text x="538.33" y="1195.6">Skinner at Catherine</text></g>
<g id="n220"><circle cx="520" cy="1180" r="2.87"/><text x="525" y="1182.3">Craigflower at Belton</text></g>
<g id="n221"><circle cx="506.67" cy="1166.67" r="2.87"/><text x="511.67" y="1168.9">Craigflower at Coventry</text></g>
<g id="n222"><circle cx="493.33" cy="1153.33" r="2.87"/><text x="498.33" y="1155.6">Craigflower at Carrie</text></g>
<g id="n223"><circle cx="480" cy="1140" r="2.87"/><text x="485" y="1142.3">Craigflower at Arcadia</text></g>
<g id="n224"><circle cx="360" cy="1126.67" r="2.87"/><text x="365" y="1128.9">Craigflower at Tillicum</text></g>
<g id="n225"><circle cx="380" cy="1126.67" r="2.87"/><text x="385" y="1128.9">Craigflower at Viewfield</text></g>
<g id="n226"><circle cx="413.33" cy="1126.67" r="2.87"/><text x="418.33" y="1128.9">Craigflower at Lodge</text></g>
<g id="n227"><circle cx="440" cy="1126.67" r="2.87"/><text x="445" y="1128.9">Craigflower at Wilson</text></g>
<g id="n228"><circle cx="466.67" cy="1126.67" r="2.87"/><text x="471.67" y="1128.9">Craigflower at Lampson</text></g>
<g id="n229"><circle cx="346.67" cy="1113.33" r="2.87"/><text x="351.67" y="1115.6">Craigflower at Rankin</text></g>
<g id="n230"><circle cx="340" cy="1106.67" r="2.87"/><text x="345" y="1108.9">Craigflower at Aral</text></g>
<g id="n231"><circle cx="340" cy="1100" r="2.87"/><text x="345" y="1102.3">Saanich at Pendene</text></g>
<g id="n232"><circle cx="326.67" cy="1093.33" r="2.87"/><text x="331.67" y="1095.6">Craigflower at Admirals</text></g>
<g id="n233"><circle cx="313.33" cy="1080" r="2.87"/><text x="318.33" y="1082.3">Island Hwy at Shoreline</text></g>
<g id="n234"><circle cx="300" cy="1066.67" r="2.87"/><text x="305" y="1068.9">Island Hwy at Glenairlie Lodge</text></g>
<g id="n235"><circle cx="340" cy="1066.67" r="2.87"/><text x="345" y="1068.9">Saanich at Shoreline Sch</text></g>
<g id="n236"><circle cx="286.67" cy="1053.33" r="2.87"/><text x="291.67" y="1055.6">Island Hwy at Plowright</text></g>
<g id="n237"><circle cx="280" cy="1046.67" r="2.87"/><text x="285" y="1048.9">Helmcken at Island Hwy</text></g>
<g id="n238"><circle cx="266.67" cy="1033.33" r="2.87"/><text x="271.67" y="1035.6">Helmcken at Midwood</text></g>
<g id="n239"><circle cx="260" cy="1026.67" r="2.87"/><text x="265" y="1028.9">Helmcken at Parkcrest</text></g>
<g id="n240"><circle cx="253.33" cy="1020" r="2.87"/><text x="258.33" y="1022.3">Helmcken at Hwy 1 SB Ramp</text></g>
<g id="n241"><circle cx="220" cy="1013.33" r="2.87"/><text x="225" y="1015.6">Victoria General Hospital</text></g>
<g id="n242"><circle cx="246.67" cy="1013.33" r="2.87"/><text x="251.67" y="1015.6">Helmcken at Hwy 1 NB Ramp</text></g>
<g id="n243"><circle cx="233.33" cy="1000" r="2.87"/><text x="238.33" y="1002.3">Watkiss Wy at Helmcken - Eagle Creek Vlg</text></g>
<g id="n244"><circle cx="220" cy="986.67" r="2.87"/><text x="225" y="988.9">Hospital Way at Watkiss Way</text></g>
<g id="n245"><circle cx="340" cy="993.33" r="2.87"/><text x="345" y="995.6">Saanich at Mckenzie</text></g>
<g id="n246"><circle cx="340" cy="1033.33" r="2.87"/><text x="345" y="1035.6">Saanich at Greenridge</text></g>
<g id="n247"><circle cx="340" cy="1126.67" r="2.87"/><text x="345" y="1128.9">Saanich at Cloverdale</text></g>
<g id="n248"><circle cx="340" cy="1160" r="2.87"/><text x="345" y="1162.3">Saanich at Darwin</text></g>
<g id="n249"><circle cx="186.67" cy="1180" r="2.87"/><text x="191.67" y="1182.3">Burnside at Tillicum</text></g>
<g id="n250"><circle cx="200" cy="1180" r="2.87"/><text x="205" y="1182.3">Burnside at Harriet</text></g>
<g id="n251"><circle cx="213.33" cy="1180" r="2.87"/><text x="218.33" y="1182.3">Burnside at Cecelia</text></g>
<g id="n252"><circle cx="226.67" cy="1180" r="2.87"/><text x="231.67" y="1182.3">Burnside at Alpha</text></g>
<g id="n253"><circle cx="240" cy="1180" r="2.87"/><text x="245" y="1182.3">Burnside at Jutland</text></g>
<g id="n254"><circle cx="260" cy="1180" r="2.87"/><text x="265" y="1182.3">Burnside at Gorge</text></g>
<g id="n255"><circle cx="286.67" cy="1180" r="2.87"/><text x="291.67" y="1182.3">Burnside at Uptown</text></g>
<g id="n256"><circle cx="320" cy="1180" r="2.87"/><text x="325" y="1182.3">Saanich at Blanshard  Vernon</text></g>
<g id="n257"><circle cx="186.67" cy="1200" r="2.87"/><text x="191.67" y="1202.3">Tillicum at Maddock  Arena</text></g>
<g id="n258"><circle cx="186.67" cy="1213.33" r="2.87"/><text x="191.67" y="1215.6">Tillicum at Obed</text></g>
<g id="n259"><circle cx="186.67" cy="1226.67" r="2.87"/><text x="191.67" y="1228.9">Tillicum at Gorge</text></g>
<g id="n260"><circle cx="186.67" cy="1240" r="2.87"/><text x="191.67" y="1242.3">Esquimalt at Lyall</text></g>
<g id="n261"><circle cx="186.67" cy="1273.33" r="2.87"/><text x="191.67" y="1275.6">HMC Dockyard Terminal</text></g>
<g id="n262"><circle cx="226.67" cy="1233.33" r="2.87"/><text x="231.67" y="1235.6">Esquimalt at Lyall</text></g>
<g id="n263"><circle cx="246.67" cy="1213.33" r="2.87"/><text x="251.67" y="1215.6">Esquimalt at Grafton</text></g>
<g id="n264"><circle cx="293.33" cy="1206.67" r="2.87"/><text x="298.33" y="1208.9">Esquimalt at Admirals</text></g>
<g id="n265"><circle cx="346.67" cy="1206.67" r="2.87"/><text x="351.67" y="1208.9">Esquimalt at Admirals</text></g>
<g id="n266"><circle cx="386.67" cy="1220" r="2.87"/><text x="391.67" y="1222.3">Esquimalt at Park</text></g>
<g id="n267"><circle cx="400" cy="1233.33" r="2.87"/><text x="405" y="1235.6">Esquimalt at Fernhill</text></g>
<g id="n268"><circle cx="420" cy="1253.33" r="2.87"/><text x="425" y="1255.6">Esquimalt at Lampson</text></g>
<g id="n269"><circle cx="440" cy="1266.67" r="2.87"/><text x="445" y="1268.9">Esquimalt at Head</text></g>
<g id="n270"><circle cx="480" cy="1266.67" r="2.87"/><text x="485" y="1268.9">Esquimalt at Dunsmuir</text></g>
<g id="n271"><circle cx="506.67" cy="1266.67" r="2.87"/><text x="511.67" y="1268.9">Esquimalt at Catherine</text></g>
<g id="n272"><circle cx="533.33" cy="1266.67" r="2.87"/><text x="538.33" y="1268.9">Esquimalt at Bay</text></g>
<g id="n273"><circle cx="566.67" cy="1266.67" r="2.87"/><text x="571.67" y="1268.9">Esquimalt at Mary</text></g>
<g id="n274"><circle cx="606.67" cy="1266.67" r="2.87"/><text x="611.67" y="1268.9">Esquimalt at Johnson</text></g>
<g id="n275"><circle cx="653.33" cy="1266.67" r="2.87"/><text x="658.33" y="1268.9">Esquimalt at Harbour</text></g>
<g id="n276"><circle cx="686.67" cy="1273.33" r="2.87"/><text x="691.67" y="1275.6">Burdett  Humboldt at Douglas</text></g>
<g id="n277"><circle cx="686.67" cy="1286.67" r="2.87"/><text x="691.67" y="1288.9">Fairfield at Blanshard-Bay A</text></g>
<g id="n278"><circle cx="433.33" cy="900" r="2.87"/><text x="438.33" y="902.3">Mckenzie at Century</text></g>
<g id="n279"><circle cx="540" cy="893.33" r="2.87"/><text x="545" y="895.6">Mckenzie at Blenkinsop</text></g>
<g id="n280"><circle cx="620" cy="893.33" r="2.87"/><text x="625" y="895.6">Mckenzie at Braefoot</text></g>
<g id="n281"><circle cx="700" cy="893.33" r="2.87"/><text x="705" y="895.6">Mckenzie, 1410 Block</text></g>
<g id="n282"><circle cx="793.33" cy="893.33" r="2.87"/><text x="798.33" y="895.6">Mckenzie at Long Gun</text></g>
<g id="n283"><circle cx="840" cy="860" r="2.87"/><text x="845" y="862.3">Mckenzie at Oakwinds</text></g>
<g id="n284"><circle cx="906.67" cy="793.33" r="2.87"/><text x="911.67" y="795.6">Mckenzie at Cedar Hill</text></g>
</g>
</svg>
